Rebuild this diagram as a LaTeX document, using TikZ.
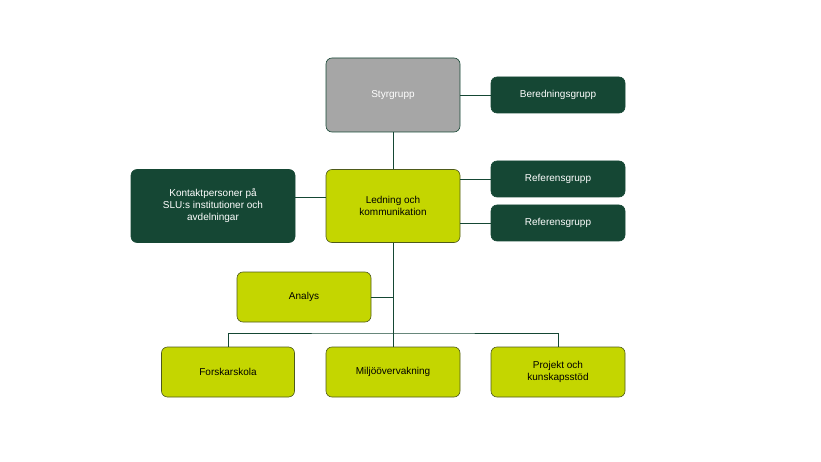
\documentclass[tikz,border=0pt]{standalone}
\usepackage{fontspec}
\setmainfont{Liberation Sans}
\begin{document}
\begin{tikzpicture}[x=1pt,y=-1pt,
  box/.style={draw=dg,rounded corners=6pt,minimum width=134pt,align=center,font=\fontsize{10}{12}\selectfont,line width=0.6pt},
  lime/.style={box,fill=lm,text=black,draw=lmd},
  dark/.style={box,fill=dg,text=white},
  ln/.style={draw=dg,line width=0.8pt}]
\definecolor{dg}{HTML}{154734}
\definecolor{lm}{HTML}{C4D600}
\definecolor{lmd}{HTML}{4E5A1A}
\definecolor{gr}{HTML}{A6A6A6}
\useasboundingbox (0,0) rectangle (821,462);
\node[box,fill=gr,text=white,minimum height=74pt] (sty) at (393,95) {Styrgrupp};
\node[dark,minimum height=36pt] (ber) at (558,95) {Beredningsgrupp};
\node[lime,minimum height=73pt] (led) at (393,206) {Ledning och\\kommunikation};
\node[dark,minimum height=36pt] (ref1) at (558,179) {Referensgrupp};
\node[dark,minimum height=36pt] (ref2) at (558,223) {Referensgrupp};
\node[dark,minimum height=73pt,minimum width=164pt] (kon) at (213,206) {Kontaktpersoner på\\SLU:s institutioner och\\avdelningar};
\node[lime,minimum height=50pt] (ana) at (304,297) {Analys};
\node[lime,minimum height=50pt,minimum width=133pt] (for) at (228,372) {Forskarskola};
\node[lime,minimum height=50pt] (mil) at (393,372) {Miljöövervakning};
\node[lime,minimum height=50pt] (pro) at (558,372) {Projekt och\\kunskapsstöd};
\coordinate (bus) at (393,333);
\coordinate (tr) at (393,297);
\draw[ln] (sty) -- (ber);
\draw[ln] (sty) -- (led);
\draw[ln] (led.east |- ref1) -- (ref1);
\draw[ln] (led.east |- ref2) -- (ref2);
\draw[ln] (kon.east |- 0,197) -- (led.west |- 0,197);
\draw[ln] (led) -- (mil);
\draw[ln] (ana) -- (tr);
\draw[ln] (for.north) |- (bus) -| (pro.north);
\end{tikzpicture}
\end{document}
